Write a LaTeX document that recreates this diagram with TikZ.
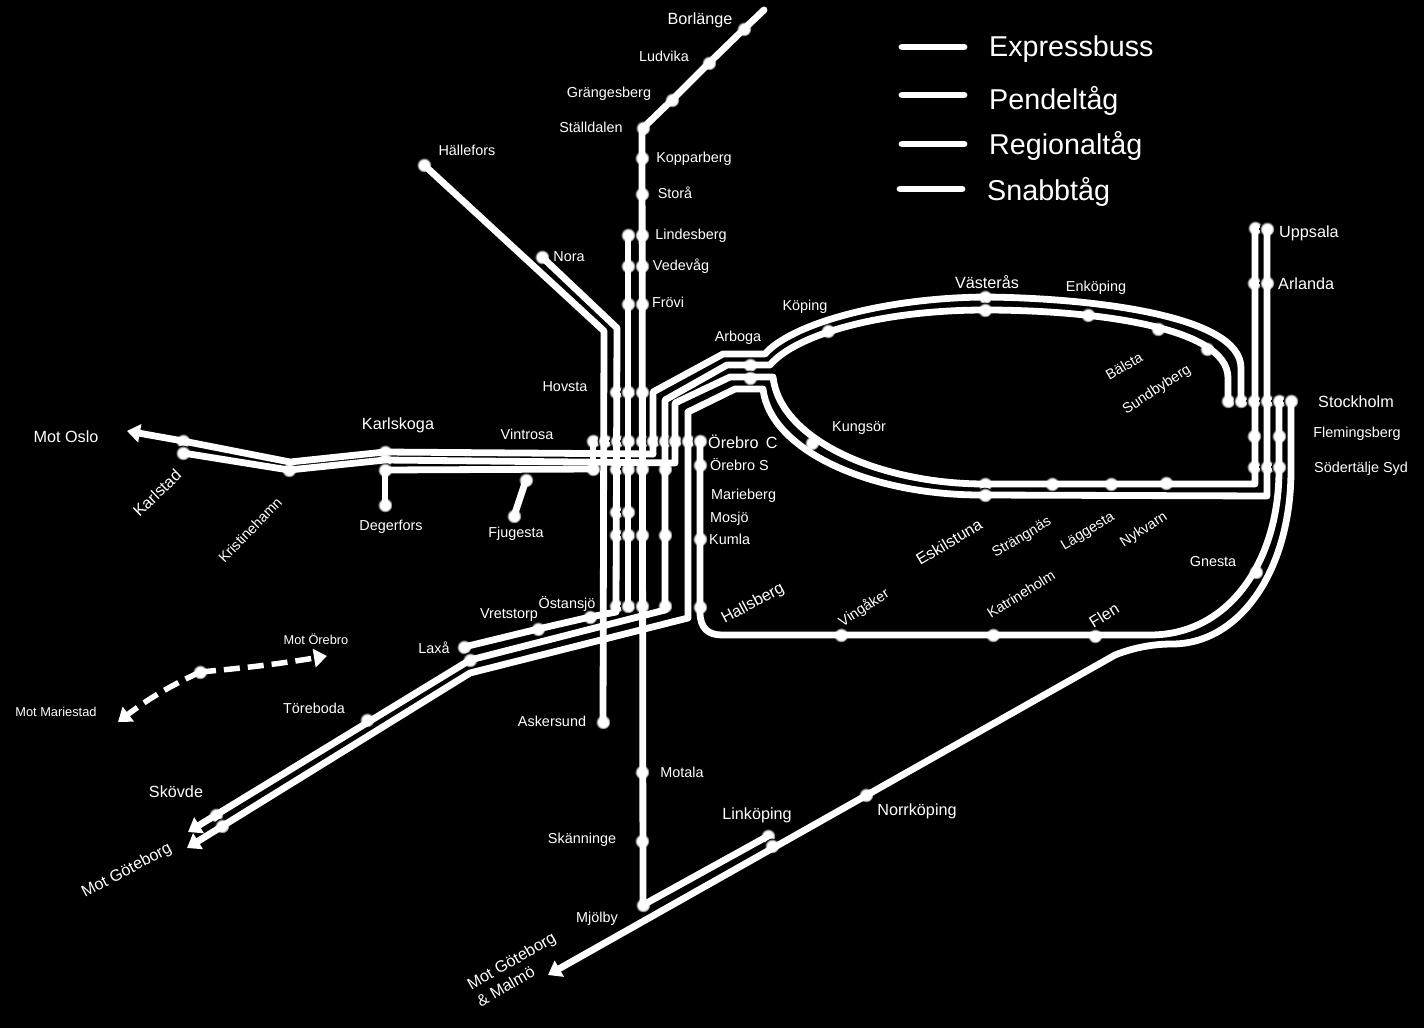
\documentclass[tikz,border=0pt]{standalone}
\usepackage{fontspec}
\setmainfont{Liberation Sans}
\usetikzlibrary{arrows.meta}
\pgfdeclareradialshading{stnglow}{\pgfpointorigin}{color(0bp)=(white); color(17bp)=(white); color(25bp)=(black); color(50bp)=(black)}

\begin{document}
\begin{tikzpicture}[x=1pt, y=-1pt,
    every node/.style={text=white, inner sep=0pt},
    stnlabel/.style={font=\fontsize{14.4}{16}\selectfont, align=center},
    midlabel/.style={font=\fontsize{16.2}{19}\selectfont, align=center},
    tinylabel/.style={font=\fontsize{12.8}{15}\selectfont},
    keylabel/.style={font=\fontsize{28.7}{32}\selectfont, anchor=west},
    stn/.style={circle, shading=stnglow, minimum size=15pt},
    rail/.style={draw=white, line width=6.8pt, line join=round, line cap=round},
    towards/.style={rail, -{Triangle[length=13pt, width=18pt]}},
    dashrail/.style={towards, line cap=butt, line width=5.5pt, dash pattern=on 16pt off 8pt}
]
    \fill[black] (0, 0) rectangle (1424, 1028);
    \useasboundingbox (0, 0) rectangle (1424, 1028);

    % Northern line
    \coordinate (borEnd) at (764, 10);
    \node (bor) [stn] at (744, 29) {};
    \node (lud) [stn] at (709, 63) {};
    \node (gra) [stn] at (672, 100) {};
    \node (sta) [stn] at (643, 128) {};
    \node (kop) [stn] at (642, 158) {};
    \node (stor) [stn] at (642, 194) {};
    \node (lin) [stn] at (642, 235) {};
    \node (linB) [stn] at (628, 235) {};
    \node (ved) [stn] at (642, 266) {};
    \node (vedB) [stn] at (628, 266) {};
    \node (fro) [stn] at (642, 304) {};
    \node (froB) [stn] at (628, 304) {};
    \node (hovA) [stn] at (616, 392) {};
    \node (hovB) [stn] at (628, 392) {};
    \node (hovC) [stn] at (642, 392) {};
    \node (hal) [stn] at (424, 165) {};
    \node (nor) [stn] at (542, 257) {};
    \node (ask) [stn] at (603, 722) {};

    % Rows around Orebro
    \node (rowA) [stn] at (593, 441) {};
    \node (rowB) [stn] at (605, 441) {};
    \node (rowC) [stn] at (617, 441) {};
    \node (rowD) [stn] at (628, 441) {};
    \node (rowE) [stn] at (642, 441) {};
    \node (rowF) [stn] at (653, 441) {};
    \node (rowG) [stn] at (665, 441) {};
    \node (rowH) [stn] at (675, 441) {};
    \node (rowI) [stn] at (688, 441) {};
    \node (ore) [stn] at (700, 441) {};
    \node (vinA) [stn] at (593, 469) {};
    \node (vinB) [stn] at (616, 469) {};
    \node (vinC) [stn] at (628, 469) {};
    \node (vinD) [stn] at (642, 469) {};
    \node (vinE) [stn] at (665, 469) {};
    \node (oreS) [stn] at (700, 465) {};
    \node (marA) [stn] at (616, 512) {};
    \node (marB) [stn] at (628, 512) {};
    \node (kumA) [stn] at (616, 535) {};
    \node (kumB) [stn] at (628, 535) {};
    \node (kumC) [stn] at (642, 535) {};
    \node (kumD) [stn] at (665, 535) {};
    \node (kum) [stn] at (700, 539) {};
    \node (hsbA) [stn] at (616, 606) {};
    \node (hsbB) [stn] at (628, 606) {};
    \node (hsbC) [stn] at (642, 606) {};
    \node (hsbD) [stn] at (665, 606) {};
    \node (hsb) [stn] at (700, 607) {};

    % Western branch
    \coordinate (oslEnd) at (127, 431);
    \node (karA) [stn] at (183, 441) {};
    \node (karB) [stn] at (183, 453) {};
    \node (kri) [stn] at (289, 470) {};
    \node (kskA) [stn] at (385, 452) {};
    \node (kskB) [stn] at (385, 460) {};
    \node (kskC) [stn] at (385, 470) {};
    \node (deg) [stn] at (385, 505) {};
    \node (fjuA) [stn] at (526, 480) {};
    \node (fju) [stn] at (514, 516) {};

    % South-western branch
    \coordinate (gbgA) at (188, 832);
    \coordinate (gbgB) at (187, 848);
    \node (laxA) [stn] at (464, 647) {};
    \node (laxB) [stn] at (470, 660) {};
    \node (vre) [stn] at (538, 629) {};
    \node (ost) [stn] at (590, 617) {};
    \node (tor) [stn] at (367, 720) {};
    \node (skoA) [stn] at (216, 815) {};
    \node (skoB) [stn] at (222, 826) {};

    % Southern line
    \coordinate (malEnd) at (548, 975);
    \node (mot) [stn] at (642, 772) {};
    \node (ska) [stn] at (642, 841) {};
    \node (mjo) [stn] at (643, 905) {};
    \node (linkA) [stn] at (768, 836) {};
    \node (linkB) [stn] at (772, 846) {};
    \node (nrk) [stn] at (866, 795) {};

    % Loop to the east
    \node (arbA) [stn] at (750, 365) {};
    \node (arbB) [stn] at (750, 378) {};
    \node (kpg) [stn] at (828, 331) {};
    \node (vasA) [stn] at (985, 297) {};
    \node (vasB) [stn] at (985, 310) {};
    \node (enk) [stn] at (1088, 315) {};
    \node (bal) [stn] at (1158, 329) {};
    \node (sun) [stn] at (1207, 349) {};
    \node (kgs) [stn] at (812, 443) {};
    \node (eskA) [stn] at (985, 484) {};
    \node (eskB) [stn] at (985, 495) {};
    \node (str) [stn] at (1052, 484) {};
    \node (lag) [stn] at (1111, 484) {};
    \node (nyk) [stn] at (1166, 483) {};
    \node (vin) [stn] at (841, 635) {};
    \node (kat) [stn] at (993, 635) {};
    \node (fle) [stn] at (1095, 636) {};
    \node (gne) [stn] at (1256, 572) {};

    % Stockholm and north of it
    \node (upsA) [stn] at (1255, 228) {};
    \node (upsB) [stn] at (1267, 229) {};
    \node (arlA) [stn] at (1254, 283) {};
    \node (arlB) [stn] at (1267, 283) {};
    \node (stoA) [stn] at (1228, 401) {};
    \node (stoB) [stn] at (1241, 401) {};
    \node (stoC) [stn] at (1254, 401) {};
    \node (stoD) [stn] at (1267, 401) {};
    \node (stoE) [stn] at (1279, 401) {};
    \node (stoF) [stn] at (1291, 401) {};
    \node (flmA) [stn] at (1254, 436) {};
    \node (flmB) [stn] at (1279, 436) {};
    \node (sodA) [stn] at (1254, 467) {};
    \node (sodB) [stn] at (1267, 467) {};
    \node (sodC) [stn] at (1279, 467) {};

    % Lines from the north
    \draw [rail] (borEnd) -- (bor.center) -- (lud.center) -- (gra.center) -- (sta.center) -- (642, 135) -- (mjo.center) -- (linkA.center);
    \draw [rail] (linB.center) -- (hsbB.center);
    \draw [rail] (hal.center) -- (604, 331) -- (ask.center);
    \draw [rail] (nor.center) -- (617, 328) -- (hsbA.center) -- (616, 612) -- (ost.center) -- (vre.center) -- (laxA.center);

    % Lines through Orebro
    \draw [towards] (665, 610) -- (laxB.center) -- (gbgA);
    \draw [rail] (hsbD.center) -- (665, 610);
    \draw [towards] (688, 412) -- (688, 618) -- (470, 673) -- (gbgB);
    \draw [rail] (rowA.center) -- (vinA.center);
    \draw [rail] (kskC.center) -- (vinA.center);
    \draw [rail] (kskC.center) -- (deg.center);
    \draw [rail] (fjuA.center) -- (fju.center);

    % Upper side of the loop
    \draw [rail] (653, 454) -- (653, 392) -- (723, 354) -- (765, 354) .. controls (790, 325) and (880, 298) .. (vasA.center) .. controls (1090, 298) and (1241, 315) .. (1241, 368) -- (stoB.center);
    \draw [towards] (653, 454) -- (kskA.center) -- (290, 462) -- (karA.center) -- (oslEnd);
    \draw [rail] (hsbD.center) -- (665, 400) -- (727, 365) -- (770, 365) .. controls (795, 335) and (880, 310) .. (vasB.center) .. controls (1085, 310) and (1228, 325) .. (1228, 378) -- (stoA.center);

    % Lower side of the loop
    \draw [rail] (karB.center) -- (kri.center) -- (kskB.center) -- (675, 463) -- (675, 403) -- (730, 377) -- (773, 377) .. controls (780, 440) and (880, 484) .. (eskA.center) -- (1255, 484) -- (upsA.center);
    \draw [rail] (688, 412) -- (735, 389) -- (763, 389) .. controls (770, 450) and (870, 496) .. (eskB.center) -- (1267, 496) -- (upsB.center);

    % Hallsberg to Stockholm, and the line from the south
    \draw [rail] (ore.center) -- (700, 612) .. controls (700, 628) and (708, 635) .. (722, 635) -- (1150, 635) .. controls (1230, 635) and (1279, 560) .. (1279, 470) -- (stoE.center);
    \draw [rail] (stoF.center) -- (1291, 470) .. controls (1291, 570) and (1240, 644) .. (1172, 644) .. controls (1155, 644) and (1135, 647) .. (1115, 655);
    \draw [towards] (1115, 655) -- (malEnd);

    % Dashed branch
    \coordinate (marEnd) at (118, 722);
    \coordinate (oreEnd) at (327, 656);
    \node (dashStn) [stn] at (200, 672) {};
    \draw [dashrail] (dashStn.center) to[bend right=2] (oreEnd);
    \draw [dashrail] (dashStn.center) to[bend right=6] (marEnd);

    % Legend
    \coordinate (expA) at (902, 47);
    \coordinate (expB) at (964, 47);
    \coordinate (penA) at (902, 95);
    \coordinate (penB) at (964, 95);
    \coordinate (regA) at (902, 144);
    \coordinate (regB) at (964, 144);
    \coordinate (snaA) at (900, 189);
    \coordinate (snaB) at (962, 189);
    \draw [rail] (expA) -- (expB);
    \draw [rail] (penA) -- (penB);
    \draw [rail] (regA) -- (regB);
    \draw [rail] (snaA) -- (snaB);
    \node (expText) [keylabel] at (989, 49) {Expressbuss};
    \node (penText) [keylabel] at (989, 101) {Pendeltåg};
    \node (regText) [keylabel] at (989, 146) {Regionaltåg};
    \node (snaText) [keylabel] at (987, 192) {Snabbtåg};

    % Labels
    \node (borText) [midlabel] at (700, 20) {Borlänge};
    \node (ludText) [stnlabel] at (664, 56) {Ludvika};
    \node (graText) [stnlabel] at (609, 94) {Grängesberg};
    \node (staText) [stnlabel] at (591, 127) {Ställdalen};
    \node (kopText) [stnlabel] at (694, 159) {Kopparberg};
    \node (storText) [stnlabel] at (675, 193) {Storå};
    \node (linText) [stnlabel] at (691, 236) {Lindesberg};
    \node (vedText) [stnlabel] at (681, 266) {Vedevåg};
    \node (froText) [stnlabel] at (668, 302) {Frövi};
    \node (halText) [stnlabel] at (467, 150) {Hällefors};
    \node (norText) [stnlabel] at (569, 257) {Nora};
    \node (hovText) [stnlabel] at (565, 387) {Hovsta};
    \node (vntText) [stnlabel] at (527, 434) {Vintrosa};
    \node (arbText) [stnlabel] at (738, 338) {Arboga};
    \node (kpgText) [stnlabel] at (805, 307) {Köping};
    \node (vasText) [midlabel] at (987, 282) {Västerås};
    \node (enkText) [stnlabel] at (1096, 288) {Enköping};
    \node (balText) [stnlabel, rotate=30] at (1124, 366) {Bälsta};
    \node (sunText) [stnlabel, rotate=33] at (1157, 390) {Sundbyberg};
    \node (kgsText) [stnlabel] at (859, 428) {Kungsör};
    \node (upsText) [midlabel, anchor=west] at (1279, 233) {Uppsala};
    \node (arlText) [midlabel, anchor=west] at (1278, 284) {Arlanda};
    \node (stoText) [midlabel] at (1356, 402) {Stockholm};
    \node (flmText) [stnlabel] at (1357, 434) {Flemingsberg};
    \node (sodText) [stnlabel] at (1361, 469) {Södertälje Syd};
    \node (oreText) [midlabel, anchor=west] at (708, 442) {Örebro\, C};
    \node (oreSText) [stnlabel, anchor=west] at (710, 465) {Örebro S};
    \node (marText) [stnlabel, anchor=west] at (711, 496) {Marieberg};
    \node (mosText) [stnlabel, anchor=west] at (710, 519) {Mosjö};
    \node (kumText) [stnlabel, anchor=west] at (709, 539) {Kumla};
    \node (hsbText) [midlabel, rotate=28] at (753, 604) {Hallsberg};
    \node (vinText) [stnlabel, rotate=33] at (864, 608) {Vingåker};
    \node (katText) [stnlabel, rotate=32] at (1021, 594) {Katrineholm};
    \node (fleText) [midlabel, rotate=32] at (1104, 615) {Flen};
    \node (gneText) [stnlabel] at (1213, 562) {Gnesta};
    \node (eskText) [midlabel, rotate=31] at (949, 542) {Eskilstuna};
    \node (strText) [stnlabel, rotate=31] at (1022, 538) {Strängnäs};
    \node (lagText) [stnlabel, rotate=31] at (1088, 532) {Läggesta};
    \node (nykText) [stnlabel, rotate=33] at (1144, 530) {Nykvarn};
    \node (oslText) [midlabel] at (66, 437) {Mot Oslo};
    \node (karText) [midlabel, rotate=44] at (157, 493) {Karlstad};
    \node (kriText) [stnlabel, rotate=46] at (250, 530) {Kristinehamn};
    \node (kskText) [midlabel] at (398, 425) {Karlskoga};
    \node (degText) [stnlabel] at (391, 527) {Degerfors};
    \node (fjuText) [stnlabel] at (516, 534) {Fjugesta};
    \node (ostText) [stnlabel] at (567, 604) {Östansjö};
    \node (vreText) [stnlabel] at (509, 615) {Vretstorp};
    \node (laxText) [stnlabel] at (434, 648) {Laxå};
    \node (orbText) [tinylabel] at (316, 639) {Mot Örebro};
    \node (mrsText) [tinylabel] at (56, 712) {Mot Mariestad};
    \node (torText) [stnlabel] at (314, 708) {Töreboda};
    \node (skoText) [midlabel] at (176, 792) {Skövde};
    \node (gbgText) [midlabel, rotate=28] at (127, 871) {Mot Göteborg};
    \node (askText) [stnlabel] at (552, 721) {Askersund};
    \node (motText) [stnlabel] at (682, 772) {Motala};
    \node (skaText) [stnlabel] at (582, 840) {Skänninge};
    \node (mjoText) [stnlabel] at (597, 919) {Mjölby};
    \node (linkText) [midlabel] at (757, 815) {Linköping};
    \node (nrkText) [midlabel] at (917, 811) {Norrköping};
    \node (malText) [midlabel, rotate=30, align=left] at (516, 969) {Mot Göteborg\\\& Malmö};
\end{tikzpicture}
\end{document}
